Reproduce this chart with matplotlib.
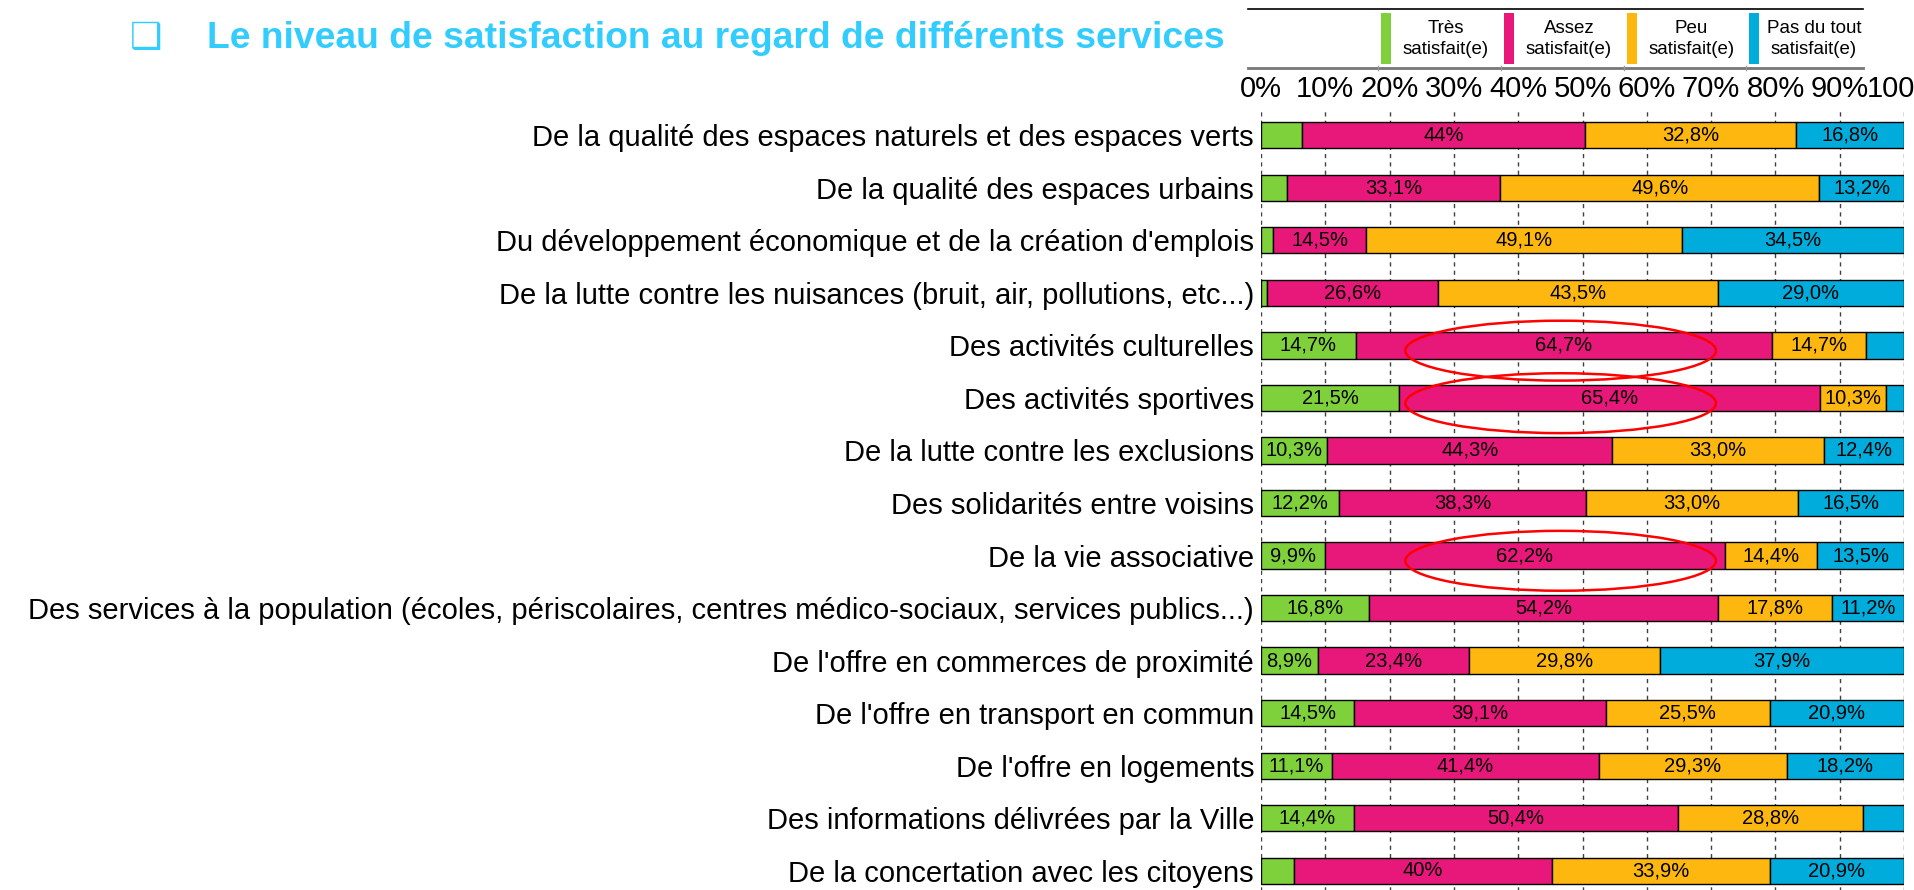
import matplotlib
matplotlib.use("Agg")
import matplotlib.pyplot as plt
from matplotlib.patches import Ellipse, Rectangle
from matplotlib.lines import Line2D

# ---------------- data ----------------
categories = [
    "De la qualité des espaces naturels et des espaces verts",
    "De la qualité des espaces urbains",
    "Du développement économique et de la création d'emplois",
    "De la lutte contre les nuisances (bruit, air, pollutions, etc...)",
    "Des activités culturelles",
    "Des activités sportives",
    "De la lutte contre les exclusions",
    "Des solidarités entre voisins",
    "De la vie associative",
    "Des services à la population (écoles, périscolaires, centres médico-sociaux, services publics...)",
    "De l'offre en commerces de proximité",
    "De l'offre en transport en commun",
    "De l'offre en logements",
    "Des informations délivrées par la Ville",
    "De la concertation avec les citoyens",
]
tres = [6.4, 4.1, 1.9, 0.9, 14.7, 21.5, 10.3, 12.2, 9.9, 16.8, 8.9, 14.5, 11.1, 14.4, 5.2]
assez = [44.0, 33.1, 14.5, 26.6, 64.7, 65.4, 44.3, 38.3, 62.2, 54.2, 23.4, 39.1, 41.4, 50.4, 40.0]
peu = [32.8, 49.6, 49.1, 43.5, 14.7, 10.3, 33.0, 33.0, 14.4, 17.8, 29.8, 25.5, 29.3, 28.8, 33.9]
pas = [16.8, 13.2, 34.5, 29.0, 5.9, 2.8, 12.4, 16.5, 13.5, 11.2, 37.9, 20.9, 18.2, 6.4, 20.9]

labels_tres = ["", "", "", "", "14,7%", "21,5%", "10,3%", "12,2%", "9,9%", "16,8%",
               "8,9%", "14,5%", "11,1%", "14,4%", ""]
labels_assez = ["44%", "33,1%", "14,5%", "26,6%", "64,7%", "65,4%", "44,3%", "38,3%", "62,2%",
                "54,2%", "23,4%", "39,1%", "41,4%", "50,4%", "40%"]
labels_peu = ["32,8%", "49,6%", "49,1%", "43,5%", "14,7%", "10,3%", "33,0%", "33,0%", "14,4%",
              "17,8%", "29,8%", "25,5%", "29,3%", "28,8%", "33,9%"]
labels_pas = ["16,8%", "13,2%", "34,5%", "29,0%", "", "", "12,4%", "16,5%", "13,5%", "11,2%",
              "37,9%", "20,9%", "18,2%", "", "20,9%"]

series_names = ["Très\nsatisfait(e)", "Assez\nsatisfait(e)", "Peu\nsatisfait(e)",
                "Pas du tout\nsatisfait(e)"]
colors = ["#7ED13B", "#E8177A", "#FDB70F", "#00ACDB"]

xticks = [0, 10, 20, 30, 40, 50, 60, 70, 80, 90, 100]
xtick_labels = ["0%", "10%", "20%", "30%", "40%", "50%", "60%", "70%", "80%", "90%", "100%"]

highlighted_rows = [4, 5, 8]

title = "Le niveau de satisfaction au regard de différents services"
title_color = "#33CCFF"

# ---------------- figure ----------------
W, H = 1914, 890
fig = plt.figure(figsize=(W / 100, H / 100), dpi=100)
plt.rcParams["font.family"] = ["Liberation Sans", "DejaVu Sans"]


def fx(px):
    return px / W


def fy(py):
    return 1 - py / H


ax_left, ax_right, ax_top, ax_bottom = 1261, 1904, 109, 897
ax = fig.add_axes([fx(ax_left), fy(ax_bottom), fx(ax_right - ax_left),
                   (ax_bottom - ax_top) / H])

series = [tres, assez, peu, pas]
series_labels = [labels_tres, labels_assez, labels_peu, labels_pas]
ypos = list(range(len(categories)))
left = [0.0] * len(categories)
for vals, labs, col in zip(series, series_labels, colors):
    bars = ax.barh(ypos, vals, left=left, height=0.5, color=col,
                   edgecolor="black", linewidth=1.0, zorder=3)
    for i, (b, lab) in enumerate(zip(bars, labs)):
        if lab:
            ax.text(left[i] + vals[i] / 2, i, lab, ha="center", va="center",
                    fontsize=14.5, color="black", zorder=5)
    left = [l + v for l, v in zip(left, vals)]

ax.set_xlim(0, 100)
ax.set_ylim(len(categories) - 0.5, -0.5)
ax.xaxis.tick_top()
ax.set_xticks(xticks)
ax.set_xticklabels(xtick_labels, fontsize=21)
ax.set_yticks(ypos)
ax.set_yticklabels(categories, fontsize=21)
ax.tick_params(axis="both", length=0)
ax.tick_params(axis="x", pad=4)
ax.tick_params(axis="y", pad=5)
for s in ax.spines.values():
    s.set_visible(False)
ax.grid(axis="x", linestyle=(0, (3, 3)), color="#404040", linewidth=1.0, zorder=0)
ax.set_axisbelow(True)

for r in highlighted_rows:
    ax.add_patch(Ellipse((46.6, r + 0.1), 48.3, 1.14, fill=False,
                         edgecolor="red", linewidth=1.8, zorder=6, clip_on=False))

# ---------------- title ----------------
fig.text(fx(130), fy(38), "\u2751", color=title_color, fontsize=26,
         ha="left", va="center", family=["DejaVu Sans"])
fig.text(fx(207), fy(38), title, color=title_color, fontsize=26.8,
         fontweight="bold", ha="left", va="center")

# ---------------- legend ----------------
fig.add_artist(Line2D([fx(1248), fx(1863)], [fy(9), fy(9)], color="black", linewidth=1.2))
fig.add_artist(Line2D([fx(1248), fx(1863)], [fy(68), fy(68)], color="#777777", linewidth=2.0))
cells = [1378, 1501, 1624, 1746, 1869]
for k in range(4):
    c0, c1 = cells[k], cells[k + 1]
    fig.add_artist(Line2D([fx(c0), fx(c0)], [fy(66), fy(70)], color="#999999", linewidth=1))
    fig.add_artist(Rectangle((fx(c0 + 3), fy(64)), fx(10), (64 - 13) / H,
                             facecolor=colors[k], edgecolor="none",
                             transform=fig.transFigure))
    fig.text(fx((c0 + 13 + c1) / 2), fy(39), series_names[k], fontsize=13.5,
             ha="center", va="center", linespacing=1.3)

fig.savefig("out.png", dpi=100)
